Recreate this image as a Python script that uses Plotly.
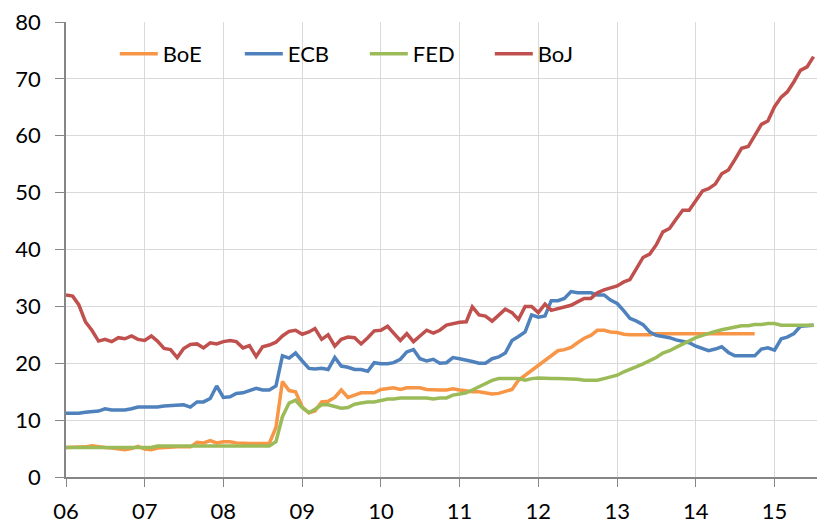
import pandas as pd
import plotly.graph_objects as go

# Monthly observations starting Jan 2006
months = pd.date_range("2006-01-01", periods=115, freq="MS")

boe = [5.2, 5.2, 5.2, 5.3, 5.5, 5.3, 5.2, 5.1, 5.0, 4.8,
       5.0, 5.4, 4.9, 4.8, 5.1, 5.2, 5.2, 5.3, 5.3, 5.3,
       6.1, 6.0, 6.4, 6.0, 6.2, 6.2, 6.0, 5.9, 5.9, 5.9,
       5.9, 5.9, 8.7, 16.8, 15.2, 15.0, 12.3, 11.3, 11.6, 13.2,
       13.3, 14.0, 15.3, 14.0, 14.4, 14.8, 14.8, 14.8, 15.4, 15.5,
       15.7, 15.4, 15.7, 15.7, 15.7, 15.4, 15.3, 15.3, 15.3, 15.5,
       15.3, 15.1, 15.0, 15.0, 14.8, 14.6, 14.7, 15.0, 15.4, 17.0,
       17.9, 18.7, 19.7, 20.6, 21.4, 22.2, 22.4, 22.8, 23.6, 24.4,
       24.9, 25.8, 25.8, 25.5, 25.4, 25.1, 25.0, 25.0, 25.0, 25.0,
       25.2, 25.2, 25.2, 25.2, 25.2, 25.2, 25.2, 25.2, 25.2, 25.2,
       25.2, 25.2, 25.2, 25.2, 25.2, 25.2]

ecb = [11.2, 11.2, 11.2, 11.4, 11.5, 11.6, 12.0, 11.8, 11.8, 11.8,
       12.0, 12.3, 12.3, 12.3, 12.3, 12.5, 12.6, 12.7, 12.7, 12.3,
       13.2, 13.2, 13.8, 16.0, 14.0, 14.1, 14.7, 14.8, 15.2, 15.6,
       15.3, 15.3, 16.0, 21.3, 20.9, 21.8, 20.4, 19.1, 19.0, 19.1,
       18.9, 21.0, 19.5, 19.3, 18.9, 18.9, 18.6, 20.1, 19.9, 19.9,
       20.1, 20.7, 22.0, 22.4, 20.8, 20.4, 20.7, 20.0, 20.1, 21.0,
       20.8, 20.6, 20.3, 20.0, 20.0, 20.8, 21.1, 21.8, 24.0, 24.7,
       25.5, 28.5, 28.1, 28.3, 31.0, 31.0, 31.4, 32.6, 32.4, 32.4,
       32.4, 32.0, 32.0, 31.1, 30.5, 29.2, 27.9, 27.4, 26.8, 25.5,
       24.9, 24.7, 24.5, 24.1, 23.8, 23.6, 23.0, 22.5, 22.2, 22.5,
       22.9, 21.9, 21.3, 21.3, 21.3, 21.3, 22.5, 22.7, 22.3, 24.3,
       24.6, 25.2, 26.5, 26.6, 26.7]

fed = [5.2, 5.2, 5.2, 5.2, 5.2, 5.2, 5.2, 5.2, 5.2, 5.2,
       5.2, 5.2, 5.2, 5.2, 5.45, 5.45, 5.45, 5.45, 5.45, 5.45,
       5.45, 5.45, 5.45, 5.45, 5.45, 5.45, 5.45, 5.45, 5.45, 5.45,
       5.45, 5.45, 6.2, 10.6, 13.0, 13.5, 12.2, 11.3, 11.9, 12.7,
       12.7, 12.4, 12.1, 12.2, 12.8, 13.0, 13.2, 13.2, 13.5, 13.7,
       13.7, 13.9, 13.9, 13.9, 13.9, 13.9, 13.7, 13.9, 13.9, 14.4,
       14.6, 14.8, 15.3, 15.9, 16.5, 17.0, 17.3, 17.3, 17.3, 17.3,
       17.0, 17.3, 17.4, 17.3, 17.3, 17.3, 17.3, 17.2, 17.2, 17.0,
       17.0, 17.0, 17.3, 17.6, 17.9, 18.5, 19.0, 19.4, 19.9, 20.4,
       21.0, 21.8, 22.2, 22.8, 23.4, 24.0, 24.5, 24.9, 25.3, 25.6,
       25.9, 26.1, 26.3, 26.6, 26.6, 26.8, 26.8, 27.0, 27.0, 26.7,
       26.7, 26.7, 26.7, 26.7, 26.7]

boj = [32.0, 31.8, 30.3, 27.3, 25.8, 23.9, 24.2, 23.8, 24.5, 24.3,
       24.8, 24.2, 24.0, 24.8, 23.9, 22.6, 22.4, 21.0, 22.6, 23.3,
       23.4, 22.7, 23.6, 23.4, 23.8, 24.0, 23.8, 22.7, 23.1, 21.2,
       22.9, 23.2, 23.7, 24.8, 25.6, 25.8, 25.1, 25.5, 26.1, 24.2,
       25.0, 23.0, 24.2, 24.6, 24.5, 23.4, 24.5, 25.7, 25.8, 26.5,
       25.3, 24.0, 25.2, 23.8, 24.8, 25.8, 25.3, 25.8, 26.7, 27.0,
       27.2, 27.3, 29.9, 28.5, 28.3, 27.4, 28.4, 29.5, 28.9, 27.7,
       30.0, 30.0, 28.9, 30.4, 29.3, 29.6, 30.0, 30.2, 30.8, 31.4,
       31.4, 32.4, 32.9, 33.2, 33.6, 34.3, 34.7, 36.7, 38.6, 39.2,
       40.8, 43.1, 43.7, 45.3, 46.9, 46.9, 48.7, 50.3, 50.7, 51.5,
       53.3, 54.0, 55.8, 57.8, 58.1, 59.9, 62.0, 62.6, 65.1, 66.8,
       67.7, 69.5, 71.5, 72.1, 73.9]

series_names = ["BoE", "ECB", "FED", "BoJ"]
series_values = [boe, ecb, fed, boj]
series_colors = ["#F79646", "#4F81BD", "#9BBB59", "#C0504D"]

year_ticks = pd.date_range("2006-01-01", "2015-01-01", freq="YS")
year_labels = ["06", "07", "08", "09", "10", "11", "12", "13", "14", "15"]

fig = go.Figure()
for name, vals, col in zip(series_names, series_values, series_colors):
    fig.add_trace(go.Scatter(
        x=months[:len(vals)], y=vals, name=name, mode="lines",
        line=dict(color=col, width=3.5),
    ))

font_family = "Lato, 'Open Sans', sans-serif"
fig.update_layout(
    width=817, height=524,
    margin=dict(l=66, r=0, t=22, b=47),
    plot_bgcolor="white", paper_bgcolor="white",
    font=dict(family=font_family, size=22, color="black"),
    showlegend=True,
    legend=dict(
        orientation="h", x=0.065, y=0.93, xanchor="left", yanchor="middle",
        bgcolor="rgba(0,0,0,0)", font=dict(size=22),
        entrywidth=72, entrywidthmode="pixels", itemwidth=38,
    ),
    xaxis=dict(
        type="date",
        range=["2006-01-01", "2015-07-17"],
        tickvals=list(year_ticks), ticktext=year_labels,
        showgrid=True, gridcolor="#D9D9D9", gridwidth=1,
        showline=True, linecolor="#868686", linewidth=1.5,
        ticks="outside", ticklen=8, tickcolor="#868686",
        ticklabelstandoff=6,
        zeroline=False,
    ),
    yaxis=dict(
        range=[0, 80], tickvals=[0, 10, 20, 30, 40, 50, 60, 70, 80],
        showgrid=True, gridcolor="#D9D9D9", gridwidth=1,
        showline=True, linecolor="#868686", linewidth=1.5,
        ticks="outside", ticklen=9, tickcolor="#868686",
        ticklabelstandoff=10,
        zeroline=False,
    ),
)

fig.write_html(
    "out.html",
    config={"displayModeBar": False},
    post_script="document.body.style.margin='0';document.body.style.overflow='hidden';",
)
